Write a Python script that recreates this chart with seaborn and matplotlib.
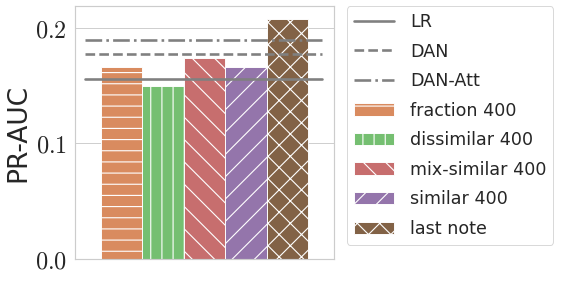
import pandas as pd
import numpy as np
import matplotlib
matplotlib.use("Agg")
import matplotlib.pyplot as plt
from matplotlib.ticker import FuncFormatter
import seaborn as sns

# bar values (PR-AUC)
methods = ["fraction 400", "dissimilar 400", "mix-similar 400", "similar 400", "last note"]
pr_auc = [0.166, 0.150, 0.174, 0.166, 0.2075]
hatches = ["-", "|", "\\", "/", "x"]

# baseline lines
baselines = ["LR", "DAN", "DAN-Att"]
baseline_vals = [0.1555, 0.1775, 0.190]
baseline_styles = ["-", "--", "-."]

sns.set_theme(style="whitegrid")
plt.rcParams["mathtext.fontset"] = "cm"
plt.rcParams["hatch.color"] = "white"
plt.rcParams["hatch.linewidth"] = 1.2

DPI = 67
fig = plt.figure(figsize=(565 / DPI, 281 / DPI), dpi=DPI)
ax = fig.add_axes([0.1327, 0.0783, 0.4584, 0.9003])

df = pd.DataFrame({"group": [""] * len(methods), "method": methods, "pr_auc": pr_auc})
pal = sns.color_palette("muted")[1:6]
sns.barplot(data=df, x="group", y="pr_auc", hue="method", hue_order=methods,
            palette=pal, edgecolor="white", linewidth=1, legend=False, ax=ax)

bar_handles = []
for cont, h in zip(ax.containers, hatches):
    for bar in cont:
        bar.set_hatch(h)
    bar_handles.append(cont[0])

line_handles = []
for name, v, ls in zip(baselines, baseline_vals, baseline_styles):
    ln = ax.axhline(v, xmin=0.04, xmax=0.955, color="grey", linestyle=ls, linewidth=2.8, label=name)
    line_handles.append(ln)

ax.set_xlim(-0.5, 0.5)
ax.set_ylim(0, 0.219)
ax.set_yticks([0.0, 0.1, 0.2])
ax.yaxis.set_major_formatter(FuncFormatter(lambda v, p: f"${v:.1f}$"))
ax.tick_params(axis="y", labelsize=26, pad=3)
ax.set_xticks([])
ax.set_xlabel("")
ax.set_ylabel("PR-AUC", fontsize=28.5, labelpad=3)
ax.grid(axis="x", visible=False)

ax.legend(line_handles + bar_handles, baselines + methods,
          loc="upper left", bbox_to_anchor=(1.05, 1.0), fontsize=18.8,
          handlelength=2.3, handletextpad=0.9, labelspacing=0.66, borderaxespad=0)

fig.savefig("out.png", dpi=DPI)
